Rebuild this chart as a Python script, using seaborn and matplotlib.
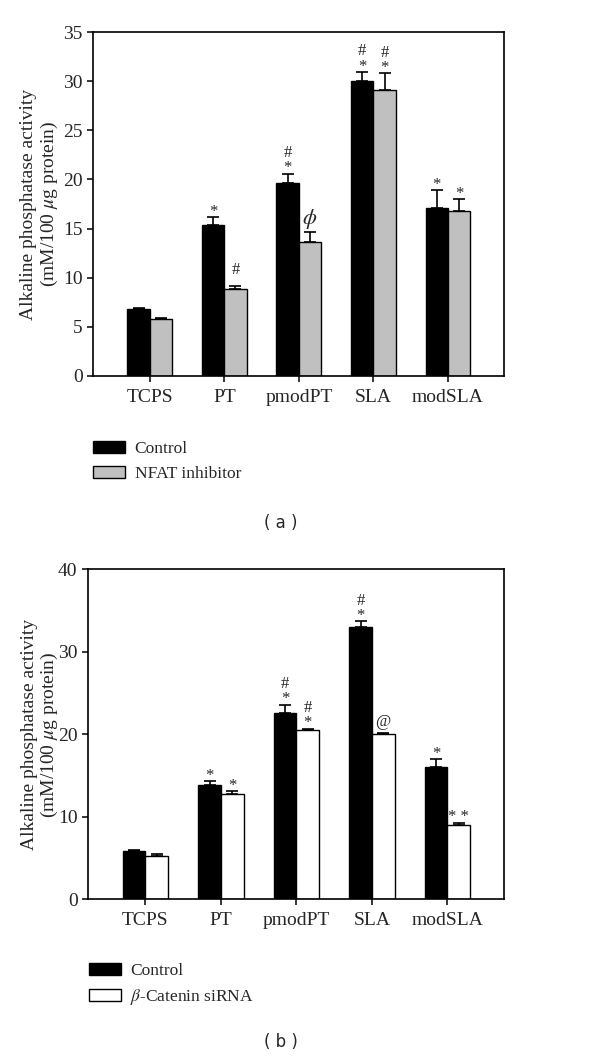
import numpy as np
import pandas as pd
import matplotlib
matplotlib.use("Agg")
import matplotlib.pyplot as plt
import seaborn as sb
from matplotlib.patches import Patch

sb.set_theme(style="ticks")
plt.rcParams["font.family"] = ["Liberation Serif", "DejaVu Serif"]
plt.rcParams["mathtext.fontset"] = "stix"

# Datos
superficies = ["TCPS", "PT", "pmodPT", "SLA", "modSLA"]

# Panel (a): Control vs NFAT inhibitor
ctrl_a = [6.8, 15.4, 19.6, 30.0, 17.1]
ctrl_a_err = [0.15, 0.8, 1.0, 0.95, 1.85]
nfat_a = [5.8, 8.85, 13.6, 29.1, 16.8]
nfat_a_err = [0.05, 0.3, 1.05, 1.7, 1.2]
marcas_ctrl_a = ["", "*", "#\n*", "#\n*", "*"]
marcas_nfat_a = ["", "#", r"$\phi$", "#\n*", "*"]

# Panel (b): Control vs beta-Catenin siRNA
ctrl_b = [5.8, 13.85, 22.6, 33.0, 16.05]
ctrl_b_err = [0.2, 0.5, 1.0, 0.7, 0.9]
sirna_b = [5.25, 12.8, 20.55, 20.05, 9.05]
sirna_b_err = [0.3, 0.3, 0.15, 0.12, 0.25]
marcas_ctrl_b = ["", "*", "#\n*", "#\n*", "*"]
marcas_sirna_b = ["", "*", "#\n*", "@", "* *"]

FS = 14
FS_LEY = 12.5
# separacion vertical (pt) de cada simbolo sobre la barra de error
desplaz = {"*": -2, "#": 6, "@": 2, "$": 1}


def panel(ax, grupo2, v1, e1, v2, e2, m1, m2, color2, ymax, ystep):
    df = pd.DataFrame({
        "superficie": superficies * 2,
        "grupo": ["Control"] * 5 + [grupo2] * 5,
        "valor": v1 + v2,
    })
    sb.barplot(data=df, x="superficie", y="valor", hue="grupo", order=superficies,
               palette={"Control": "black", grupo2: color2}, errorbar=None,
               width=0.6, edgecolor="black", linewidth=1.0, saturation=1,
               legend=False, ax=ax)
    for cont, vals, errs, marcas in zip(ax.containers, [v1, v2], [e1, e2], [m1, m2]):
        xs = [b.get_x() + b.get_width() / 2 for b in cont]
        ax.errorbar(xs, vals, yerr=[np.zeros(len(errs)), errs], fmt="none",
                    ecolor="black", elinewidth=1.2, capsize=4, capthick=1.2)
        for x, v, e, m in zip(xs, vals, errs, marcas):
            if m:
                fs = 16 if "phi" in m else 12
                dy = desplaz[m[-1]] if m[-1] == "*" else desplaz[m[0]]
                ax.annotate(m, (x, v + e), xytext=(0, dy), textcoords="offset points",
                            ha="center", va="bottom", fontsize=fs, linespacing=0.95)
    ax.set_ylim(0, ymax)
    ax.set_yticks(np.arange(0, ymax + 0.1, ystep))
    ax.set_xlim(-0.76, 4.75)
    ax.set_xlabel("")
    ax.set_ylabel("Alkaline phosphatase activity\n(mM/100 $\\mu$g protein)", fontsize=FS,
                  linespacing=1.1)
    ax.tick_params(axis="y", direction="out", length=4.5, width=1.1, labelsize=FS,
                   color="black", pad=3)
    ax.tick_params(axis="x", direction="out", length=4.5, width=1.1, labelsize=FS,
                   color="black", pad=5)
    for s in ax.spines.values():
        s.set_visible(True)
        s.set_linewidth(1.2)
        s.set_color("black")


fig = plt.figure(figsize=(6, 10.57), dpi=100)
ax1 = fig.add_axes([0.155, 0.6443, 0.685, 0.3254])
ax2 = fig.add_axes([0.1467, 0.1492, 0.6933, 0.3122])

panel(ax1, "NFAT inhibitor", ctrl_a, ctrl_a_err, nfat_a, nfat_a_err,
      marcas_ctrl_a, marcas_nfat_a, "#c0c0c0", 35, 5)
panel(ax2, "$\\beta$-Catenin siRNA", ctrl_b, ctrl_b_err, sirna_b, sirna_b_err,
      marcas_ctrl_b, marcas_sirna_b, "white", 40, 10)
ax1.yaxis.set_label_coords(-0.080, 0.5)
ax2.yaxis.set_label_coords(-0.067, 0.5)

# Leyendas
ley_a = [Patch(facecolor="black", edgecolor="black"),
         Patch(facecolor="#c0c0c0", edgecolor="black")]
fig.legend(ley_a, ["Control", "NFAT inhibitor"], loc="upper left",
           bbox_to_anchor=(0.155, 1 - 441 / 1057), frameon=False, fontsize=FS_LEY,
           handlelength=1.85, handleheight=0.7, handletextpad=0.55, labelspacing=0.5,
           borderpad=0, borderaxespad=0)
ley_b = [Patch(facecolor="black", edgecolor="black"),
         Patch(facecolor="white", edgecolor="black")]
fig.legend(ley_b, ["Control", "$\\beta$-Catenin siRNA"], loc="upper left",
           bbox_to_anchor=(0.148, 1 - 963 / 1057), frameon=False, fontsize=FS_LEY,
           handlelength=1.85, handleheight=0.7, handletextpad=0.55, labelspacing=0.45,
           borderpad=0, borderaxespad=0)

fig.text(281 / 600, 1 - 523 / 1057, "( a )", ha="center", va="center",
         fontsize=12, family="DejaVu Sans")
fig.text(281 / 600, 1 - 1042 / 1057, "( b )", ha="center", va="center",
         fontsize=12, family="DejaVu Sans")

fig.savefig("out.png", dpi=100, facecolor="white")
